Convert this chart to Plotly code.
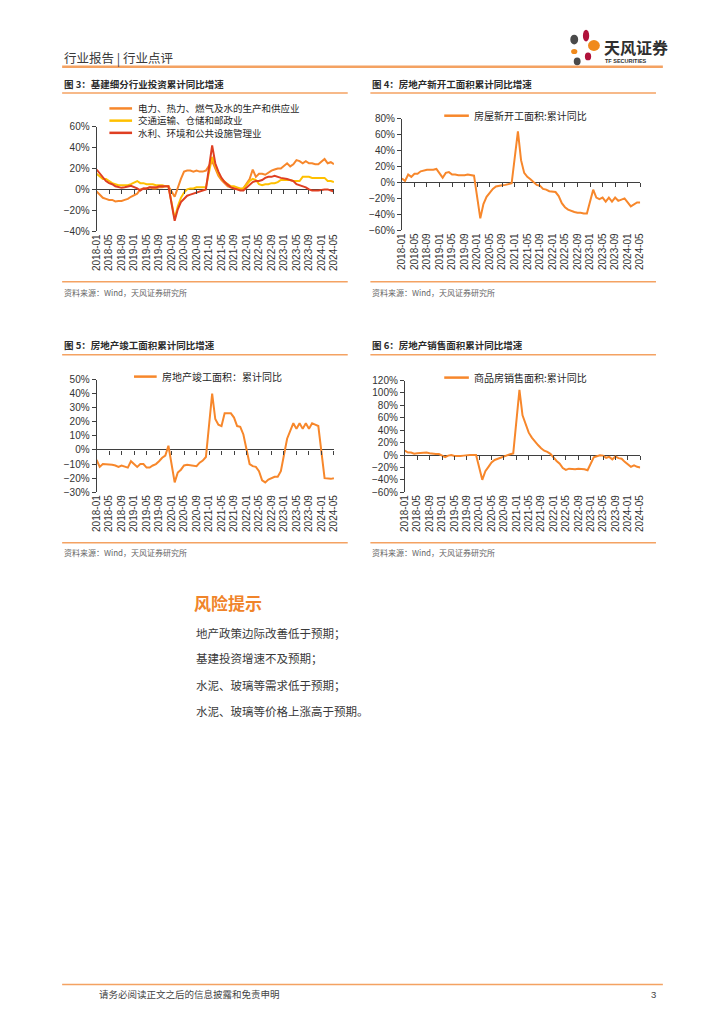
import plotly.graph_objects as go

W, H = 724, 1024
FONT = "Liberation Sans, Arial, Noto Sans CJK SC, sans-serif"
CJK = "Noto Sans CJK SC, Liberation Sans, sans-serif"

# ---------------- data ----------------
months = [f"{y}-{m:02d}" for y in range(2018, 2025) for m in range(1, 13)][:77]
tick_labels = [m for i, m in enumerate(months) if i % 4 == 0]

N = None
infra_power = [-2, -5, -8, -9, -10, -10, -11.5, -11, -11, -10, -9, -7,
               N, -4, 0, 1, 1, 2, 1, 1, 2, 2, 3, 3,
               N, -7, 2, 10, 17, 18, 18, 17, 18, 17, 17, 18,
               N, 27, 20, 13, 9, 6, 3, 2, 1, 1, 0, 1,
               N, 10, 19, 12, 15, 15, 14, 16, 18, 19, 20, 20,
               N, 25, 22, 24, 28, 27, 25, 27, 25, 25, 24, 24,
               N, 29, 25, 26, 24]
infra_transport = [15, 12, 10, 10, 8, 6, 5, 4, 4, 4, 4, 5,
                   N, 8, 6, 6, 5, 5, 5, 4, 4, 4, 3, 3,
                   N, -28, -16, -8, -3, 0, 1, 1, 2, 2, 2, 2,
                   N, 31, 22, 15, 10, 7, 5, 3, 3, 2, 1, 1,
                   N, 8, 10, 9, 5, 4, 5, 5, 6, 6, 7, 9,
                   N, 9, 9, 8, 8, 8, 12, 12, 12, 11, 11, 10.5,
                   N, 11, 8, 8, 7]
infra_water = [19, 15, 11, 8, 6, 5, 3, 2, 1.5, 2, 3, 3.5,
               N, 1, -1, 1, 1, 2, 2, 2, 3, 3, 3, 3,
               N, -30, -19, -12, -9, -6, -5, -4, -3, -2, -1, 0,
               N, 42, 25, 17, 11, 7, 4, 2, 1, 0, -1, -1,
               N, 5, 7, 8, 8, 9, 11, 12, 12, 13, 12, 11,
               N, 10, 9, 8, 5, 4, 3, 2, 0, -1, -1, -1,
               N, 0, 0, -1, -2]
new_starts = [5, 2, 10, 7, 11, 11, 14, 15, 16, 16, 16, 17,
              N, 6, 12, 13, 10, 10, 9, 9, 9, 10, 9, 8.5,
              N, -45, -27, -18, -13, -8, -5, -4, -3.5, -3, -2, -1,
              N, 64, 28, 12, 7, 4, 0, -3, -4, -8, -9, -11,
              N, -12, -17, -26, -31, -34, -36, -37, -38, -38, -39, -39,
              N, -9, -19, -21, -19, -24, -19, -24, -19, -23, -21, -20,
              N, -30, -28, -25, -25]
completions = [-7, -12, -10, -10, -10, -10.5, -11, -12, -11, -12, -12.5, -8,
               N, -12, -10, -10, -12.5, -12.5, -11, -10, -8, -5.5, -4, 3,
               N, -23, -16, -14, -11, -10.5, -11, -11, -11.5, -9, -7.5, -5,
               N, 40, 22, 18, 17, 26, 26, 26, 23, 17, 16.5, 11,
               N, -10, -11.5, -12, -15, -21.5, -23, -21, -20, -19, -19, -15,
               N, 8, 14, 19, 15, 19, 15, 19, 15, 19, 18, 17,
               N, -20, -20.5, -20.5, -20]
sales = [7, 4, 4, 2, 3, 3.5, 4, 4, 3, 2, 1.5, 1.5,
         N, -3.6, -1, 0, -1.5, -2, -1.5, -1, 0, 0, 0, 0,
         N, -40, -26, -19, -12, -8, -6, -4, -2, 0, 1.3, 2.6,
         N, 105, 64, 48, 36, 28, 21.5, 16, 11, 7, 5, 2,
         N, -9.6, -14, -21, -24, -22, -23, -23, -22, -22, -23, -24.5,
         N, -3.6, -2, -0.5, -1, -4.5, -3, -7, -2.5, -5, -6, -11,
         N, -19, -16.5, -19, -20]

ORANGE = "#F7872B"
YELLOW = "#FFC000"
RED = "#DF3F22"
LINE_ORANGE = "#F4A262"
AXIS = "#3F3F3F"
TEXT = "#333333"

# --------------- geometry helpers ---------------
def px(x):
    return x / W

def py(y):
    return 1 - y / H

charts = [
    dict(x0=92, x1=333, ytop=122, ybot=228, rng=(-40, 60), dtick=20),
    dict(x0=402, x1=644, ytop=114, ybot=227, rng=(-60, 80), dtick=20),
    dict(x0=92, x1=333, ytop=378, ybot=492, rng=(-30, 50), dtick=10),
    dict(x0=405, x1=644, ytop=379, ybot=492, rng=(-60, 120), dtick=20),
]

series = [
    [("电力、热力、燃气及水的生产和供应业", infra_power, ORANGE),
     ("交通运输、仓储和邮政业", infra_transport, YELLOW),
     ("水利、环境和公共设施管理业", infra_water, RED)],
    [("房屋新开工面积:累计同比", new_starts, ORANGE)],
    [("房地产竣工面积：累计同比", completions, ORANGE)],
    [("商品房销售面积:累计同比", sales, ORANGE)],
]

fig = go.Figure()
layout = dict(width=W, height=H, margin=dict(l=0, r=0, t=0, b=0),
              paper_bgcolor="white", plot_bgcolor="white", showlegend=False,
              font=dict(family=FONT, color=TEXT))

for i, (c, ser) in enumerate(zip(charts, series)):
    n = i + 1
    xa = "x" if n == 1 else f"x{n}"
    ya = "y" if n == 1 else f"y{n}"
    for name, vals, col in ser:
        fig.add_trace(go.Scatter(x=months, y=vals, name=name, mode="lines",
                                 connectgaps=True, line=dict(color=col, width=2),
                                 xaxis=xa, yaxis=ya, hoverinfo="skip"))
    ydom = [py(c["ybot"]), py(c["ytop"])]
    layout[f"xaxis{'' if n == 1 else n}"] = dict(
        domain=[px(c["x0"]), px(c["x1"])], anchor=ya, type="category",
        categoryorder="array", categoryarray=months,
        range=[0, len(months) - 1], tickmode="array", tickvals=tick_labels,
        ticktext=tick_labels, tickangle=-90, showline=False, ticks="",
        showgrid=False, zeroline=False, tickfont=dict(size=10, color=TEXT))
    layout[f"yaxis{'' if n == 1 else n}"] = dict(
        domain=ydom, anchor=xa, range=list(c["rng"]), dtick=c["dtick"],
        ticksuffix="%", showline=True, linecolor=AXIS, linewidth=1,
        ticks="outside", ticklen=4, tickcolor=AXIS, showgrid=False,
        zeroline=True, zerolinecolor=AXIS, zerolinewidth=1,
        tickfont=dict(size=10, color=TEXT))
    # tick-only axis along the zero line
    lo, hi = c["rng"]
    zero_pos = ydom[0] + (0 - lo) / (hi - lo) * (ydom[1] - ydom[0])
    k = n + 4
    layout[f"xaxis{k}"] = dict(
        domain=[px(c["x0"]), px(c["x1"])], anchor="free", position=zero_pos,
        overlaying=xa, type="linear", range=[0, len(months) - 1],
        tickmode="array", tickvals=list(range(0, len(months), 4)),
        ticks="outside", ticklen=4, tickcolor=AXIS, showticklabels=False,
        showline=False, showgrid=False, zeroline=False)

fig.update_layout(**layout)
# invisible helper traces so the zero-line tick axes are drawn
for k in range(5, 9):
    fig.add_trace(go.Scatter(x=[0], y=[0], mode="markers", marker=dict(opacity=0),
                             xaxis=f"x{k}", yaxis="y" if k == 5 else f"y{k-4}",
                             hoverinfo="skip", showlegend=False))

shapes = []
ann = []

def text(x, y, s, size, color=TEXT, bold=False, family=CJK, anchor="left"):
    ann.append(dict(x=px(x), y=py(y), xref="paper", yref="paper", text=f"<b>{s}</b>" if bold else s,
                    showarrow=False, xanchor=anchor, yanchor="middle", align="left",
                    font=dict(size=size, color=color, family=family)))

def hline(x0, x1, y, color, width):
    shapes.append(dict(type="line", xref="paper", yref="paper", x0=px(x0), x1=px(x1),
                       y0=py(y), y1=py(y), line=dict(color=color, width=width)))

# header
text(57, 52, "行业报告 | 行业点评", 12.5, color="#3A3A3A")
hline(57, 667, 61.5, LINE_ORANGE, 2.5)

# logo
def ellipse(cx, cy, rx, ry, color):
    shapes.append(dict(type="circle", xref="paper", yref="paper",
                       x0=px(cx - rx), x1=px(cx + rx), y0=py(cy + ry), y1=py(cy - ry),
                       fillcolor=color, line=dict(width=0)))
ellipse(577, 34, 4, 5, "#4A4A4A")
ellipse(589, 30, 3.2, 6, "#B0123B")
ellipse(597, 40, 6, 5.5, "#F08A1C")
ellipse(577, 46, 3.2, 2.6, "#F08A1C")
ellipse(591, 51, 3.2, 4, "#B0123B")
ellipse(580, 56, 3.5, 4, "#4A4A4A")
text(605, 41, "天风证券", 16, color="#2F2F2F", bold=True)
text(606, 56, "TF SECURITIES", 5.5, color="#2F2F2F", bold=True, family=FONT)

# chart frames / titles / sources
frames = [
    (57, 347, 79, 88, 279, 290, "图 3：基建细分行业投资累计同比增速"),
    (370, 660, 79, 88, 279, 290, "图 4：房地产新开工面积累计同比增速"),
    (57, 347, 343, 353, 543, 553, "图 5：房地产竣工面积累计同比增速"),
    (370, 660, 343, 353, 543, 553, "图 6：房地产销售面积累计同比增速"),
]
for x0, x1, ty, ly, by, sy, title in frames:
    text(x0, ty, title, 9.5, color="#2B2B2B", bold=True)
    hline(x0, x1, ly, LINE_ORANGE, 1.5)
    hline(x0, x1, by, LINE_ORANGE, 1.5)
    text(x0, sy, "资料来源：Wind，天风证券研究所", 8, color="#666666")

# legend of chart 3 (three rows, one text block)
LEG_SIZE = 9.5
row_gap = LEG_SIZE * 1.3
for r, (name, _, col) in enumerate(series[0]):
    hline(105, 128, 116 + (r - 1) * row_gap, col, 2.5)
text(132, 116, "<br>".join(s[0] for s in series[0]), LEG_SIZE, color="#1F1F1F")

# single-series legends
for lx0, lx1, tx, y, ci in [(445, 470, 473, 111, 1), (130, 153, 156, 375, 2),
                            (445, 470, 473, 376, 3)]:
    name, _, col = series[ci][0]
    hline(lx0, lx1, y, col, 2.5)
    text(tx, y, name, 10, color="#1F1F1F")

# risk section
text(189, 604, "风险提示", 17, color="#F0842A", bold=True)
risk_lines = ["地产政策边际改善低于预期；", "基建投资增速不及预期；",
              "水泥、玻璃等需求低于预期；", "水泥、玻璃等价格上涨高于预期。"]
for s, y in zip(risk_lines, [634, 660, 687, 713]):
    text(191, y, s, 11.5, color="#3A3A3A")

# footer
hline(57, 667, 990, LINE_ORANGE, 1.5)
text(92, 1000, "请务必阅读正文之后的信息披露和免责申明", 9.5, color="#444444")
text(662, 1000, "3", 9.5, color="#444444", family=FONT, anchor="right")

fig.update_layout(shapes=shapes, annotations=ann)
fig.write_html("out.html", config={"displayModeBar": False},
               post_script="document.body.style.margin='0';document.body.style.padding='0';")
